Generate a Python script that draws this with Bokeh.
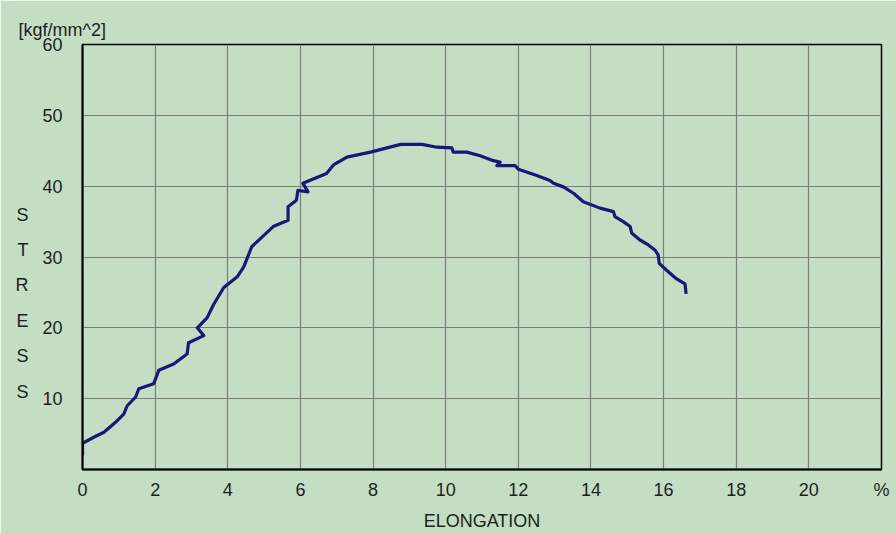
from bokeh.plotting import figure
from bokeh.models import FixedTicker, Range1d, LinearAxis
from bokeh.embed import file_html
from bokeh.resources import INLINE

# ---- data ----
elongation = [0, 0, 0.31, 0.59, 0.91, 1.14, 1.23, 1.46, 1.55, 1.96, 2.10, 2.51, 2.88, 2.92,
              3.34, 3.16, 3.43, 3.61, 3.89, 4.26, 4.44, 4.66, 5.25, 5.66, 5.66, 5.89, 5.93,
              6.21, 6.07, 6.72, 6.91, 7.28, 7.93, 8.76, 9.35, 9.76, 10.17, 10.21, 10.58,
              10.95, 11.31, 11.5, 11.41, 11.91, 12.0, 12.51, 12.87, 12.97, 13.24, 13.52,
              13.79, 14.25, 14.62, 14.66, 14.89, 15.08, 15.12, 15.35, 15.58, 15.76, 15.85,
              15.88, 16.09, 16.36, 16.59, 16.62]
stress = [1.97, 3.7, 4.55, 5.25, 6.66, 7.85, 9.0, 10.2, 11.4, 12.1, 14.0, 14.9, 16.3, 17.9,
          18.9, 20.0, 21.4, 23.3, 25.7, 27.2, 28.6, 31.45, 34.3, 35.2, 37.1, 38.0, 39.4,
          39.2, 40.4, 41.8, 43.0, 44.1, 44.8, 45.9, 45.9, 45.5, 45.4, 44.8, 44.8,
          44.3, 43.6, 43.4, 42.9, 42.9, 42.4, 41.5, 40.8, 40.4, 39.9, 39.0,
          37.8, 36.9, 36.4, 35.7, 35.0, 34.3, 33.4, 32.4, 31.7, 31.0, 30.3,
          29.1, 28.1, 26.9, 26.2, 24.8]
x_ticks = [0, 2, 4, 6, 8, 10, 12, 14, 16, 18, 20, 22]
x_tick_labels = {22: "%"}
y_ticks = [10, 20, 30, 40, 50, 60]
unit_text = "[kgf/mm^2]"
y_title_letters = ["S", "T", "R", "E", "S", "S"]
y_title_pos = [36, 31, 26, 21, 16, 11]
x_title = "ELONGATION"

BG = "#c3dec3"
FONT = "Liberation Sans"
FS = "18px"
TXT = "#1e1e1e"

p = figure(width=896, height=533, output_backend="svg", toolbar_location=None,
           x_range=Range1d(0, 22), y_range=Range1d(0, 60),
           min_border_left=82, min_border_right=15, min_border_top=44, min_border_bottom=64)
p.background_fill_color = BG
p.border_fill_color = BG
p.outline_line_color = "black"
p.outline_line_width = 1.5

p.line(elongation, stress, line_color="#181878", line_width=3.2, line_join="round")

# title used as the unit label at top-left
p.title.text = unit_text
p.title.align = "left"
p.title.offset = -64
p.title.standoff = 10
p.title.text_font = FONT
p.title.text_font_size = FS
p.title.text_font_style = "normal"
p.title.text_color = TXT

for ax in (p.xaxis[0], p.yaxis[0]):
    ax.axis_line_color = "black"
    ax.axis_line_width = 2
    ax.major_tick_line_color = None
    ax.minor_tick_line_color = None
    ax.major_label_text_font = FONT
    ax.major_label_text_font_size = FS
    ax.major_label_text_color = TXT

p.xaxis.ticker = FixedTicker(ticks=x_ticks)
p.xaxis.major_label_overrides = x_tick_labels
p.xaxis.major_label_standoff = 4
p.xaxis.axis_label = x_title
p.xaxis.axis_label_standoff = 8
p.xaxis.axis_label_text_font = FONT
p.xaxis.axis_label_text_font_size = FS
p.xaxis.axis_label_text_font_style = "normal"
p.xaxis.axis_label_text_color = TXT

p.yaxis.ticker = FixedTicker(ticks=y_ticks)
p.yaxis.major_label_standoff = 14

# stacked letters "STRESS" as an extra left axis
stress_axis = LinearAxis(ticker=FixedTicker(ticks=y_title_pos),
                         major_label_overrides={v: c for v, c in zip(y_title_pos, y_title_letters)})
stress_axis.axis_line_color = None
stress_axis.major_tick_line_color = None
stress_axis.minor_tick_line_color = None
stress_axis.major_label_standoff = 5
stress_axis.major_label_text_font = FONT
stress_axis.major_label_text_font_size = FS
stress_axis.major_label_text_color = TXT
stress_axis.major_label_text_align = "center"
p.add_layout(stress_axis, "left")

p.xgrid.ticker = FixedTicker(ticks=x_ticks[1:-1])
p.ygrid.ticker = FixedTicker(ticks=y_ticks[:-1])
for g in (p.xgrid[0], p.ygrid[0]):
    g.grid_line_color = "#7d7d7d"
    g.grid_line_width = 1.2

open("out.html", "w").write(file_html(p, INLINE))
